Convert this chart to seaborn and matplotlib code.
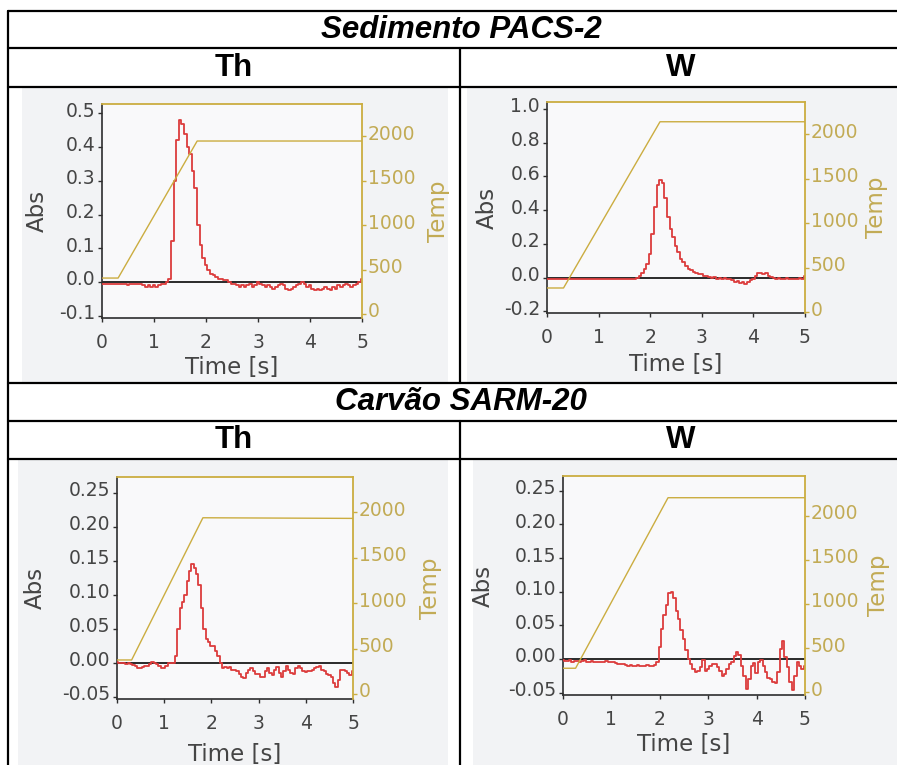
import numpy as np
import pandas as pd
import matplotlib
matplotlib.use("Agg")
import matplotlib.pyplot as plt
import seaborn as sns
from matplotlib.lines import Line2D
from matplotlib.patches import Rectangle
from matplotlib.transforms import ScaledTranslation

# ---------------- data ----------------
time_s = np.linspace(0.0, 5.0, 101)  # sampling grid, 0.05 s

abs_pacs_th = [
    -0.005, -0.005, -0.005, -0.005, -0.005, -0.005, -0.005, -0.005, -0.005, -0.005,
    -0.01, -0.005, -0.005, -0.005, -0.005, -0.005, -0.01, -0.015, -0.01, -0.015,
    -0.01, -0.015, -0.01, -0.005, -0.005, 0.0, 0.01, 0.12, 0.30, 0.42,
    0.48, 0.47, 0.44, 0.40, 0.38, 0.33, 0.28, 0.17, 0.11, 0.07,
    0.05, 0.035, 0.025, 0.02, 0.015, 0.01, 0.01, 0.005, 0.005, 0.0,
    -0.005, -0.005, -0.01, -0.015, -0.01, -0.015, -0.01, -0.005, -0.015, -0.01,
    0.0, -0.005, -0.01, -0.015, -0.01, -0.015, -0.02, -0.015, -0.01, -0.005,
    -0.01, -0.02, -0.025, -0.02, -0.015, -0.01, -0.005, 0.0, -0.005, -0.015,
    -0.01, -0.02, -0.025, -0.02, -0.025, -0.02, -0.015, -0.02, -0.025, -0.015,
    -0.02, -0.01, -0.015, -0.01, -0.005, -0.01, -0.015, -0.01, -0.005, 0.0,
    0.01,
]
abs_pacs_w = [
    -0.005, -0.005, -0.01, -0.005, -0.005, -0.01, -0.01, -0.005, -0.005, -0.01,
    -0.005, -0.005, -0.005, -0.01, -0.005, -0.005, -0.005, -0.005, -0.01, -0.005,
    -0.005, -0.005, -0.005, -0.01, -0.005, -0.005, -0.005, -0.01, -0.005, -0.005,
    -0.005, -0.005, -0.01, -0.005, -0.005, 0.0, 0.01, 0.03, 0.05, 0.08,
    0.14, 0.26, 0.42, 0.55, 0.58, 0.56, 0.47, 0.36, 0.29, 0.24,
    0.19, 0.15, 0.11, 0.09, 0.07, 0.05, 0.045, 0.035, 0.03, 0.02,
    0.02, 0.01, 0.01, 0.005, 0.0, 0.005, -0.005, 0.0, -0.005, 0.0,
    -0.01, -0.005, -0.015, -0.025, -0.02, -0.03, -0.025, -0.04, -0.025, -0.015,
    -0.01, 0.01, 0.025, 0.03, 0.02, 0.025, 0.01, 0.005, 0.0, -0.005,
    0.0, -0.01, -0.005, 0.0, -0.01, -0.005, -0.01, -0.005, 0.0, -0.005,
    0.01,
]
abs_sarm_th = [
    0.002, 0.0, 0.0, 0.0, -0.002, 0.0, -0.002, -0.003, -0.005, -0.007,
    -0.007, -0.006, -0.004, -0.005, -0.002, 0.002, 0.0, -0.002, -0.004, -0.007,
    -0.007, -0.004, 0.0, 0.0, 0.0, 0.01, 0.05, 0.08, 0.09, 0.10,
    0.12, 0.135, 0.145, 0.14, 0.13, 0.115, 0.08, 0.05, 0.035, 0.03,
    0.025, 0.025, 0.018, 0.01, 0.0, -0.008, -0.006, -0.008, -0.006, -0.01,
    -0.01, -0.012, -0.016, -0.02, -0.022, -0.015, -0.01, -0.008, -0.012, -0.016,
    -0.016, -0.02, -0.02, -0.012, -0.008, -0.015, -0.018, -0.01, -0.006, -0.015,
    -0.02, -0.012, -0.004, -0.01, -0.015, -0.016, -0.008, -0.004, -0.008, -0.012,
    -0.014, -0.012, -0.012, -0.011, -0.008, -0.006, -0.004, -0.01, -0.012, -0.016,
    -0.018, -0.02, -0.03, -0.035, -0.025, -0.01, -0.01, -0.012, -0.015, -0.018,
    -0.012,
]
abs_sarm_w = [
    -0.002, -0.003, -0.003, -0.002, -0.004, -0.003, -0.003, -0.004, -0.003, -0.002,
    -0.004, -0.004, -0.003, -0.005, -0.004, -0.004, -0.005, -0.004, -0.003, -0.004,
    -0.005, -0.004, -0.006, -0.008, -0.008, -0.007, -0.009, -0.01, -0.009, -0.011,
    -0.01, -0.009, -0.01, -0.011, -0.01, -0.009, -0.01, -0.01, -0.009, -0.004,
    0.018, 0.045, 0.065, 0.08, 0.098, 0.10, 0.09, 0.072, 0.06, 0.043,
    0.03, 0.013, 0.0, -0.008, -0.015, -0.02, -0.018, -0.012, -0.002, -0.018,
    -0.015, -0.01, -0.008, -0.007, -0.012, -0.018, -0.026, -0.022, -0.015, -0.008,
    -0.004, 0.005, 0.011, 0.006, -0.01, -0.025, -0.044, -0.03, -0.01, -0.006,
    -0.021, -0.005, -0.002, -0.01, -0.02, -0.028, -0.03, -0.035, -0.036, -0.02,
    0.015, 0.026, 0.003, -0.012, -0.035, -0.046, -0.025, -0.005, -0.01, -0.015,
    -0.01,
]

# furnace temperature programmes (time, temperature)
temp_t_pacs_th = [0.0, 0.31, 1.83, 5.0]
temp_v_pacs_th = [404, 404, 1944, 1944]
temp_t_pacs_w = [0.0, 0.32, 2.19, 5.0]
temp_v_pacs_w = [270, 270, 2138, 2138]
temp_t_sarm_th = [0.0, 0.31, 1.82, 5.0]
temp_v_sarm_th = [374, 374, 1937, 1930]
temp_t_sarm_w = [0.0, 0.26, 2.17, 5.0]
temp_v_sarm_w = [272, 272, 2204, 2204]

abs_ticks_pacs_th = [-0.1, 0.0, 0.1, 0.2, 0.3, 0.4, 0.5]
abs_ticks_pacs_w = [-0.2, 0.0, 0.2, 0.4, 0.6, 0.8, 1.0]
abs_ticks_sarm = [-0.05, 0.0, 0.05, 0.10, 0.15, 0.20, 0.25]
temp_ticks = [0, 500, 1000, 1500, 2000]
time_ticks = [0, 1, 2, 3, 4, 5]

group_titles = ["Sedimento PACS-2", "Carvão SARM-20"]
element_titles = ["Th", "W"]

# ---------------- style ----------------
sns.set_theme(style="white")
plt.rcParams["font.family"] = ["DejaVu Sans"]

W, H = 897, 765
fig = plt.figure(figsize=(W / 100, H / 100), dpi=100)
fig.patch.set_facecolor("white")

RED = "#dc3c3c"
GOLD = "#cbad40"
GOLD_TXT = "#c2ab55"
DARK = "#2e2e2e"
TXT = "#454545"


def frac_box(l, r, t, b):
    return [l / W, 1 - b / H, (r - l) / W, (b - t) / H]


def px_rect(l, r, t, b, color):
    fig.patches.append(Rectangle((l / W, 1 - b / H), (r - l) / W, (b - t) / H,
                                 transform=fig.transFigure, facecolor=color,
                                 edgecolor="none", zorder=-10))


# scanned-image backgrounds
BG = "#f2f3f5"
px_rect(22, 448, 88, 382, BG)
px_rect(467, 897, 88, 382, BG)
px_rect(18, 448, 460, 765, BG)
px_rect(473, 897, 460, 765, BG)

panels = [
    dict(box=(102, 362, 104, 318), y=abs_pacs_th, tt=temp_t_pacs_th, tv=temp_v_pacs_th,
         ylim=(-0.107, 0.528), tlim=(-45, 2360), yticks=abs_ticks_pacs_th, fmt="{:.1f}",
         abs_x=37, temp_x=438, time_y=367),
    dict(box=(547, 805, 102, 313), y=abs_pacs_w, tt=temp_t_pacs_w, tv=temp_v_pacs_w,
         ylim=(-0.209, 1.04), tlim=(-11, 2360), yticks=abs_ticks_pacs_w, fmt="{:.1f}",
         abs_x=487, temp_x=877, time_y=364),
    dict(box=(117, 353, 477, 699), y=abs_sarm_th, tt=temp_t_sarm_th, tv=temp_v_sarm_th,
         ylim=(-0.053, 0.273), tlim=(-55, 2385), yticks=abs_ticks_sarm, fmt="{:.2f}",
         abs_x=35, temp_x=430, time_y=755),
    dict(box=(563, 805, 476, 695), y=abs_sarm_w, tt=temp_t_sarm_w, tv=temp_v_sarm_w,
         ylim=(-0.0536, 0.272), tlim=(-31, 2450), yticks=abs_ticks_sarm, fmt="{:.2f}",
         abs_x=483, temp_x=878, time_y=745),
]

up = ScaledTranslation(0, 4 / 100, fig.dpi_scale_trans)
TICK_FS = 13.5
LABEL_FS = 16.5

for p in panels:
    l, r, t, b = p["box"]
    ax = fig.add_axes(frac_box(l, r, t, b))
    ax.set_zorder(1)
    ax.set_facecolor("#f9f9fa")
    df = pd.DataFrame({"Time": time_s, "Abs": p["y"]})
    ax.axhline(0, color="#1a1a1a", lw=1.3, zorder=2)
    sns.lineplot(data=df, x="Time", y="Abs", ax=ax, color=RED, lw=1.3,
                 drawstyle="steps-mid", zorder=3)
    ax.set_xlim(0, 5)
    ax.set_ylim(*p["ylim"])
    ax.set_xticks(time_ticks)
    ax.set_xticklabels([str(v) for v in time_ticks])
    ax.set_yticks(p["yticks"])
    ax.set_yticklabels([p["fmt"].format(v) for v in p["yticks"]])
    ax.tick_params(axis="both", direction="out", length=3, width=1, color=DARK,
                   labelcolor=TXT, labelsize=TICK_FS)
    ax.tick_params(axis="x", pad=8, bottom=True)
    ax.tick_params(axis="y", pad=2, left=True)
    for lbl in ax.get_yticklabels():
        lbl.set_transform(lbl.get_transform() + up)
    for s in ["top", "right"]:
        ax.spines[s].set_visible(False)
    for s in ["left", "bottom"]:
        ax.spines[s].set_color(DARK)
        ax.spines[s].set_linewidth(1.2)
    axh = b - t
    axw = r - l
    ax.set_xlabel("Time [s]", fontsize=LABEL_FS, color=TXT)
    ax.xaxis.set_label_coords(0.5, -(p["time_y"] - b) / axh)
    ax.xaxis.label.set_va("center")
    ax.set_ylabel("Abs", fontsize=LABEL_FS, color=TXT)
    ax.yaxis.set_label_coords((p["abs_x"] - l) / axw, 0.5)
    ax.yaxis.label.set_va("center")

    ax2 = ax.twinx()
    ax2.set_zorder(2)
    tdf = pd.DataFrame({"Time": p["tt"], "Temp": p["tv"]})
    sns.lineplot(data=tdf, x="Time", y="Temp", ax=ax2, color=GOLD, lw=1.0, zorder=2)
    ax2.set_ylim(*p["tlim"])
    ax2.set_xlim(0, 5)
    ax2.set_yticks(temp_ticks)
    ax2.set_yticklabels([str(v) for v in temp_ticks])
    ax2.tick_params(axis="y", direction="out", length=3, width=1, color=GOLD,
                    labelcolor=GOLD_TXT, labelsize=TICK_FS, pad=1, right=True)
    for lbl in ax2.get_yticklabels():
        lbl.set_transform(lbl.get_transform() + up)
    for s in ["left", "bottom"]:
        ax2.spines[s].set_visible(False)
    for s in ["top", "right"]:
        ax2.spines[s].set_color(GOLD)
        ax2.spines[s].set_linewidth(1.3)
    ax2.set_ylabel("Temp", fontsize=LABEL_FS, color=GOLD_TXT, rotation=90)
    ax2.yaxis.set_label_coords((p["temp_x"] - l) / axw, 0.5)
    ax2.yaxis.label.set_va("center")
    ax2.set_xlabel("")

# ---------------- table frame ----------------
LW = 1.6


def hline(y, x0=8, x1=897):
    fig.add_artist(Line2D([x0 / W, x1 / W], [1 - y / H, 1 - y / H], color="black",
                          lw=LW, transform=fig.transFigure, zorder=10))


def vline(x, y0, y1):
    fig.add_artist(Line2D([x / W, x / W], [1 - y0 / H, 1 - y1 / H], color="black",
                          lw=LW, transform=fig.transFigure, zorder=10))


for y in [11, 48, 87, 383, 421, 459]:
    hline(y)
vline(8, 11, 765)
vline(460, 48, 383)
vline(460, 421, 765)

hdr_font = ["Liberation Sans", "DejaVu Sans"]
HDR_FS = 22.5
fig.text(461 / W, 1 - 30 / H, group_titles[0], ha="center", va="center", color="black",
         fontsize=HDR_FS, fontweight="bold", fontstyle="italic", family=hdr_font, zorder=11)
fig.text(461 / W, 1 - 402.5 / H, group_titles[1], ha="center", va="center", color="black",
         fontsize=HDR_FS, fontweight="bold", fontstyle="italic", family=hdr_font, zorder=11)
for yc in [68, 440.5]:
    fig.text(234 / W, 1 - yc / H, element_titles[0], ha="center", va="center", color="black",
             fontsize=HDR_FS, fontweight="bold", family=hdr_font, zorder=11)
    fig.text(681 / W, 1 - yc / H, element_titles[1], ha="center", va="center", color="black",
             fontsize=HDR_FS, fontweight="bold", family=hdr_font, zorder=11)

fig.savefig("out.png", dpi=100)
